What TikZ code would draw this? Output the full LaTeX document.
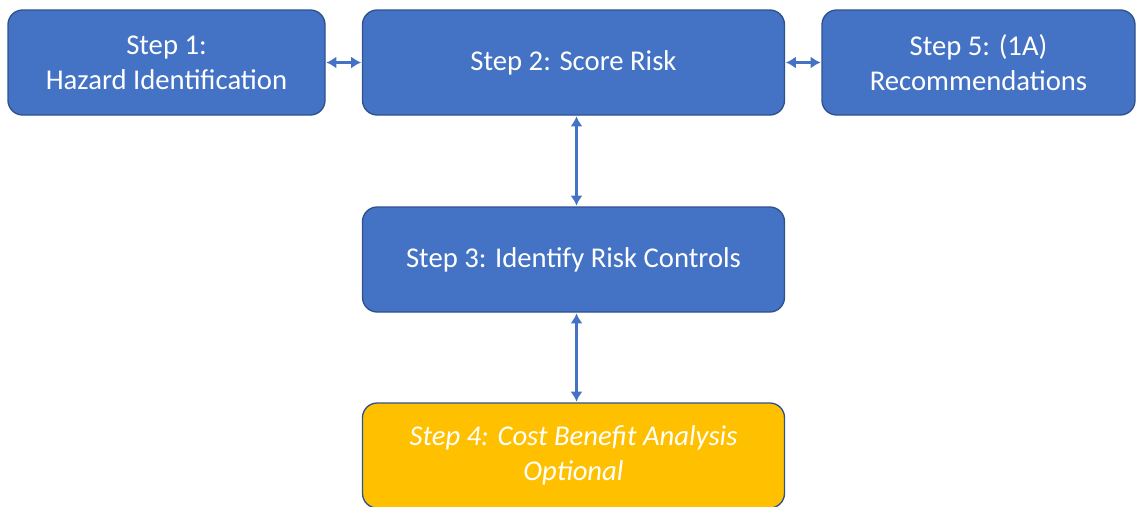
\documentclass[tikz,border=0pt]{standalone}
\usepackage{fontspec}
\setmainfont{Carlito}
\usetikzlibrary{arrows.meta}
\definecolor{boxblue}{HTML}{4472C4}
\definecolor{edgeblue}{HTML}{2F528F}
\definecolor{boxgold}{HTML}{FFC000}
\begin{document}
\begin{tikzpicture}[x=0.75pt,y=-0.75pt,
	every node/.style={draw=edgeblue,line width=1pt,fill=boxblue,rounded corners=11pt,
		text=white,align=center,font=\fontsize{21.5}{26}\selectfont,
		minimum height=78.75pt,inner sep=2pt},
	link/.style={draw=boxblue,line width=2pt,{Latex[length=7.5pt,width=9pt]}-{Latex[length=7.5pt,width=9pt]},shorten >=0.5pt,shorten <=0.5pt}]
		\useasboundingbox (0,0) rectangle (1136,507);
		\node[minimum width=237.75pt] (s1) at (166.5,62.5){Step 1:\\Hazard Identification};
		\node[minimum width=316.5pt] (s2) at (573.5,62.5){Step 2: Score Risk};
		\node[minimum width=234.75pt] (s5) at (978.5,62.5){Step 5: (1A)\\Recommendations};
		\node[minimum width=316.5pt] (s3) at (573.5,259.5){Step 3: Identify Risk Controls};
		\node[minimum width=316.5pt,fill=boxgold,font=\fontsize{21.5}{26}\selectfont\itshape] (s4) at (573.5,455.5){Step 4: Cost Benefit Analysis\\Optional};
		\draw[link] (s1)--(s2);
		\draw[link] (s2)--(s5);
		\draw[link] ([xshift=2.25pt]s2.south)--([xshift=2.25pt]s3.north);
		\draw[link] ([xshift=2.25pt]s3.south)--([xshift=2.25pt]s4.north);
\end{tikzpicture}
\end{document}
